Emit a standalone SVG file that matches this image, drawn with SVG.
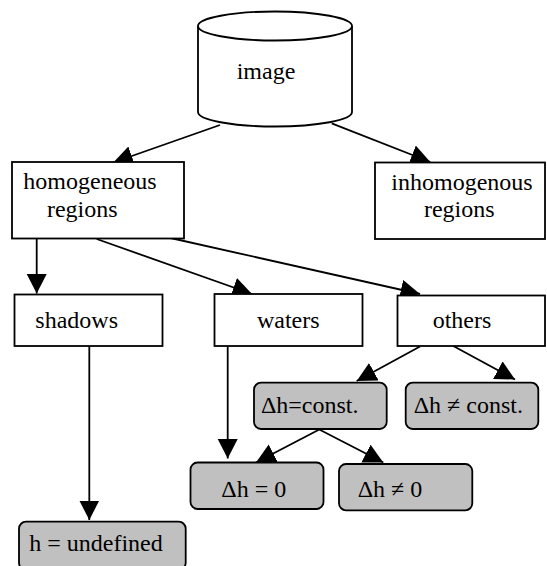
<svg xmlns="http://www.w3.org/2000/svg" width="547" height="566" viewBox="0 0 547 566">
<style>
  .box { fill: #ffffff; stroke: #000000; stroke-width: 1.8; }
  .rbox { fill: #c0c0c0; stroke: #000000; stroke-width: 1.8; }
  .lbl { font-size: 24px; fill: #000000; text-anchor: middle; }
  .edge { stroke: #000000; stroke-width: 1.8; fill: none; marker-end: url(#arrow); }
</style>
<defs>
  <marker id="arrow" markerUnits="userSpaceOnUse" markerWidth="21" markerHeight="21" refX="19.5" refY="10" orient="auto">
    <path d="M0,0 L19.5,10 L0,20 Z" fill="#000000"/>
  </marker>
</defs>
<rect x="0" y="0" width="547" height="566" fill="#ffffff"/>
<g id="connectors">
  <line class="edge" x1="220" y1="125" x2="113.3" y2="162.5"/>
  <line class="edge" x1="331.7" y1="123.3" x2="430.3" y2="162"/>
  <line class="edge" x1="36.7" y1="238.5" x2="36.7" y2="293.5"/>
  <line class="edge" x1="96.7" y1="239" x2="252" y2="294"/>
  <line class="edge" x1="168.3" y1="237.5" x2="420" y2="294"/>
  <line class="edge" x1="89.3" y1="346" x2="89.3" y2="520"/>
  <line class="edge" x1="227.7" y1="346" x2="227.7" y2="458.5"/>
  <line class="edge" x1="420" y1="346.5" x2="356.7" y2="381"/>
  <line class="edge" x1="453.3" y1="346" x2="515" y2="379.5"/>
  <line class="edge" x1="319.3" y1="429.5" x2="256" y2="462.5"/>
  <line class="edge" x1="319.3" y1="429.5" x2="383.3" y2="462.5"/>
</g>
<g font-family="'Liberation Serif', 'Times New Roman', 'DejaVu Serif', serif">
<g id="image">
  <path class="box" d="M198,26 L198,112 A77,14.5 0 0 0 352,112 L352,26"/>
  <ellipse class="box" cx="275" cy="26" rx="77" ry="14.5"/>
  <text class="lbl" x="266" y="79">image</text>
</g>
<g id="homogeneous">
  <rect class="box" x="12" y="162" width="172" height="76.5"/>
  <text class="lbl" x="90" y="189">homogeneous</text>
  <text class="lbl" x="82.3" y="217">regions</text>
</g>
<g id="inhomogenous">
  <rect class="box" x="375" y="162.5" width="170" height="76.5"/>
  <text class="lbl" x="462" y="190">inhomogenous</text>
  <text class="lbl" x="459.3" y="217">regions</text>
</g>
<g id="shadows">
  <rect class="box" x="14.5" y="294.5" width="148" height="51.5"/>
  <text class="lbl" x="76.7" y="328">shadows</text>
</g>
<g id="waters">
  <rect class="box" x="214.5" y="294" width="148" height="52"/>
  <text class="lbl" x="288.3" y="328">waters</text>
</g>
<g id="others">
  <rect class="box" x="397.5" y="295.5" width="147.5" height="50.5"/>
  <text class="lbl" x="462" y="328">others</text>
</g>
<g id="dh_const">
  <rect class="rbox" x="254" y="382.7" width="132.7" height="46.3" rx="7" ry="7"/>
  <text class="lbl" x="309.7" y="413">Δh=const.</text>
</g>
<g id="dh_nconst">
  <rect class="rbox" x="405.7" y="382.7" width="132.6" height="46.3" rx="7" ry="7"/>
  <text class="lbl" x="468.3" y="413">Δh ≠ const.</text>
</g>
<g id="dh_zero">
  <rect class="rbox" x="190.5" y="462.5" width="133" height="46.5" rx="7" ry="7"/>
  <text class="lbl" x="253.8" y="497">Δh = 0</text>
</g>
<g id="dh_nzero">
  <rect class="rbox" x="339" y="464" width="133.3" height="46.3" rx="7" ry="7"/>
  <text class="lbl" x="390" y="497">Δh ≠ 0</text>
</g>
<g id="h_undefined">
  <rect class="rbox" x="19" y="521.7" width="166.7" height="48" rx="7" ry="7"/>
  <text class="lbl" x="96" y="551">h = undefined</text>
</g>
</g>
</svg>
